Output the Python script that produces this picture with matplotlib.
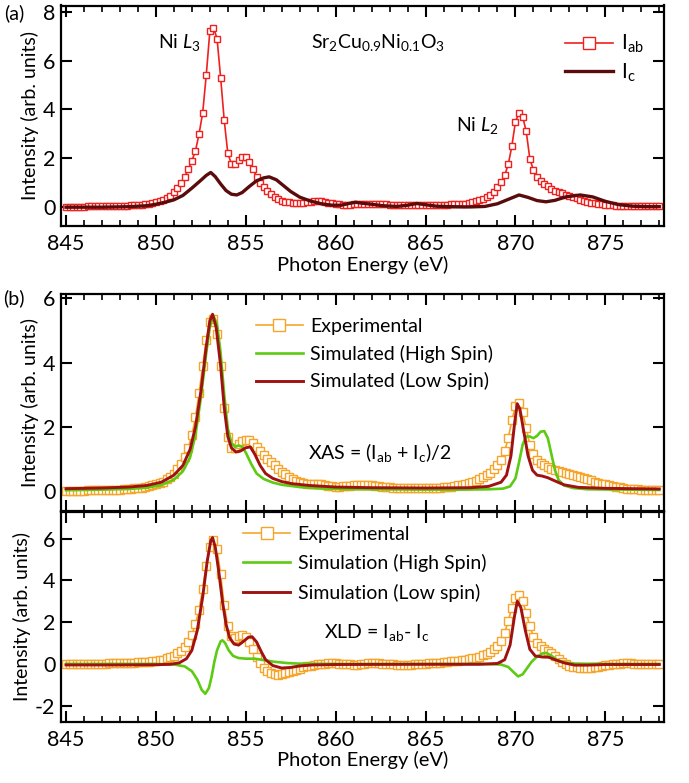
import numpy as np
import matplotlib
matplotlib.use('Agg')
import matplotlib.pyplot as plt
from matplotlib import font_manager
from matplotlib.ticker import MultipleLocator

# pick a narrow-ish sans font if we have one
names = {f.name for f in font_manager.fontManager.ttflist}
base = 'DejaVu Sans'
for fam in ['Liberation Sans Narrow', 'Lato', 'Open Sans']:
  if fam in names:
    base = fam
    break
plt.rcParams['font.family'] = [base, 'DejaVu Sans']
plt.rcParams['mathtext.fontset'] = 'custom'
plt.rcParams['mathtext.rm'] = base
plt.rcParams['mathtext.it'] = base + ':italic'
plt.rcParams['axes.unicode_minus'] = False

# ---------------- data ----------------
# experimental spectra, 0.2 eV grid 845.0 ... 878.0
energy_exp = np.round(np.arange(845.0, 878.01, 0.2), 1)

i_ab = [
  0.02, 0.02, 0.02, 0.02, 0.02, 0.02, 0.03, 0.03, 0.03, 0.03,
  0.03, 0.03, 0.04, 0.04, 0.04, 0.05, 0.05, 0.06, 0.07, 0.08,
  0.09, 0.10, 0.12, 0.14, 0.17, 0.20, 0.24, 0.29, 0.36, 0.45,
  0.62, 0.80, 1.00, 1.24, 1.55, 1.90, 2.30, 3.00, 3.85, 5.40,
  7.20, 7.35, 6.90, 5.30, 3.55, 2.20, 1.78, 1.78, 1.95, 2.06,
  2.05, 1.85, 1.58, 1.25, 1.00, 0.82, 0.66, 0.52, 0.41, 0.32,
  0.27, 0.23, 0.20, 0.18, 0.17, 0.17, 0.18, 0.20, 0.22, 0.24,
  0.25, 0.24, 0.22, 0.19, 0.16, 0.13, 0.11, 0.10, 0.10, 0.10,
  0.11, 0.12, 0.13, 0.14, 0.15, 0.15, 0.14, 0.13, 0.12, 0.11,
  0.10, 0.09, 0.08, 0.08, 0.07, 0.07, 0.07, 0.07, 0.07, 0.08,
  0.08, 0.08, 0.08, 0.09, 0.09, 0.10, 0.10, 0.11, 0.12, 0.13,
  0.13, 0.15, 0.17, 0.20, 0.24, 0.29, 0.35, 0.42, 0.51, 0.64,
  0.82, 1.02, 1.30, 1.75, 2.50, 3.50, 3.85, 3.70, 3.10, 1.98,
  1.52, 1.24, 1.08, 0.96, 0.87, 0.76, 0.68, 0.62, 0.57, 0.51,
  0.46, 0.41, 0.36, 0.31, 0.27, 0.23, 0.19, 0.16, 0.13, 0.11,
  0.09, 0.08, 0.07, 0.06, 0.05, 0.05, 0.04, 0.04, 0.04, 0.04,
  0.04, 0.04, 0.04, 0.04, 0.04, 0.04]

xas_exp = [
  0.02, 0.02, 0.02, 0.02, 0.02, 0.02, 0.03, 0.03, 0.03, 0.03,
  0.03, 0.04, 0.04, 0.04, 0.05, 0.05, 0.06, 0.07, 0.08, 0.09,
  0.10, 0.11, 0.13, 0.15, 0.18, 0.21, 0.25, 0.30, 0.37, 0.45,
  0.55, 0.68, 0.84, 1.05, 1.35, 1.75, 2.30, 3.05, 3.90, 4.70,
  5.25, 5.35, 4.90, 3.90, 2.60, 1.70, 1.35, 1.35, 1.48, 1.57,
  1.60, 1.58, 1.50, 1.38, 1.25, 1.12, 1.00, 0.90, 0.80, 0.70,
  0.60, 0.52, 0.45, 0.38, 0.32, 0.28, 0.25, 0.24, 0.24, 0.24,
  0.23, 0.21, 0.19, 0.17, 0.15, 0.14, 0.14, 0.15, 0.16, 0.17,
  0.18, 0.19, 0.20, 0.20, 0.19, 0.18, 0.17, 0.15, 0.14, 0.13,
  0.12, 0.11, 0.10, 0.10, 0.09, 0.09, 0.09, 0.09, 0.09, 0.09,
  0.09, 0.09, 0.10, 0.10, 0.11, 0.12, 0.13, 0.14, 0.16, 0.18,
  0.20, 0.22, 0.25, 0.28, 0.32, 0.37, 0.43, 0.50, 0.58, 0.68,
  0.80, 0.98, 1.25, 1.65, 2.20, 2.65, 2.75, 2.45, 1.95, 1.45,
  1.15, 0.98, 0.88, 0.80, 0.74, 0.70, 0.66, 0.62, 0.59, 0.56,
  0.53, 0.50, 0.47, 0.44, 0.41, 0.37, 0.34, 0.30, 0.27, 0.24,
  0.21, 0.19, 0.16, 0.14, 0.12, 0.10, 0.08, 0.07, 0.06, 0.06,
  0.05, 0.05, 0.05, 0.05, 0.05, 0.05]

xld_exp = [
  0.00, 0.00, -0.01, -0.01, -0.01, 0.00, 0.00, 0.00, 0.01, 0.01,
  0.01, 0.01, 0.02, 0.02, 0.02, 0.03, 0.03, 0.04, 0.05, 0.06,
  0.07, 0.08, 0.09, 0.10, 0.12, 0.14, 0.17, 0.21, 0.26, 0.32,
  0.40, 0.50, 0.62, 0.80, 1.05, 1.40, 1.90, 2.60, 3.60, 4.70,
  5.60, 5.95, 5.50, 4.30, 2.80, 1.80, 1.35, 1.25, 1.35, 1.40,
  1.30, 1.05, 0.70, 0.35, 0.05, -0.18, -0.33, -0.44, -0.50, -0.52,
  -0.50, -0.46, -0.41, -0.35, -0.29, -0.23, -0.17, -0.12, -0.08, -0.04,
  -0.02, 0.00, 0.01, 0.02, 0.02, 0.02, 0.01, 0.00, -0.01, -0.02,
  -0.03, -0.03, -0.02, 0.00, 0.02, 0.03, 0.03, 0.02, 0.01, 0.00,
  -0.01, -0.02, -0.03, -0.04, -0.04, -0.04, -0.03, -0.02, -0.01, 0.00,
  0.01, 0.02, 0.03, 0.05, 0.06, 0.08, 0.10, 0.12, 0.14, 0.16,
  0.18, 0.20, 0.23, 0.26, 0.30, 0.35, 0.41, 0.48, 0.57, 0.70,
  0.88, 1.12, 1.50, 2.05, 2.70, 3.15, 3.28, 3.00, 2.45, 1.80,
  1.30, 1.00, 0.85, 0.73, 0.62, 0.50, 0.36, 0.22, 0.10, 0.00,
  -0.08, -0.13, -0.17, -0.19, -0.20, -0.20, -0.19, -0.17, -0.14, -0.10,
  -0.07, -0.04, -0.02, 0.00, 0.01, 0.02, 0.02, 0.02, 0.01, 0.01,
  0.01, 0.00, 0.00, 0.00, 0.00, 0.00]

# I_c (line only)
ic_energy = [845.0, 847.0, 848.5, 849.5, 850.0, 850.5, 851.0, 851.5, 852.0, 852.5,
             852.8, 853.05, 853.3, 853.6, 853.9, 854.2, 854.5, 854.8, 855.2, 855.6,
             856.0, 856.3, 856.7, 857.1, 857.5, 858.0, 858.6, 859.2, 859.8, 860.3,
             860.8, 861.1, 861.5, 862.0, 862.6, 863.4, 864.0, 864.5, 865.0, 865.6,
             866.5, 867.5, 868.3, 869.0, 869.6, 870.2, 870.7, 871.2, 871.7, 872.2,
             872.8, 873.6, 874.3, 875.0, 875.7, 876.5, 877.3, 878.0]
i_c = [0.00, 0.00, 0.02, 0.06, 0.12, 0.20, 0.30, 0.48, 0.78, 1.10,
       1.30, 1.42, 1.25, 0.95, 0.68, 0.53, 0.50, 0.60, 0.85, 1.08,
       1.20, 1.24, 1.12, 0.88, 0.64, 0.41, 0.25, 0.14, 0.08, 0.08,
       0.16, 0.20, 0.16, 0.12, 0.06, 0.03, 0.08, 0.15, 0.10, 0.04,
       0.02, 0.01, 0.03, 0.14, 0.32, 0.50, 0.40, 0.27, 0.22, 0.28,
       0.42, 0.50, 0.42, 0.24, 0.11, 0.04, 0.02, 0.02]

# simulated XAS
hs_xas_energy = [845.0, 847.0, 848.5, 849.5, 850.3, 851.0, 851.5, 851.9, 852.2, 852.5,
                 852.8, 853.0, 853.2, 853.4, 853.6, 853.8, 854.0, 854.2, 854.4, 854.6,
                 854.8, 855.0, 855.3, 855.6, 856.0, 856.5, 857.0, 858.0, 859.0, 860.0,
                 862.0, 865.0, 867.0, 868.5, 869.3, 869.7, 870.0, 870.2, 870.4, 870.6,
                 870.8, 871.0, 871.2, 871.4, 871.6, 871.8, 872.0, 872.2, 872.4, 872.7,
                 873.2, 874.0, 876.0, 878.0]
hs_xas = [0.03, 0.05, 0.07, 0.11, 0.19, 0.36, 0.62, 1.05, 1.75, 2.90,
          4.30, 5.10, 5.45, 5.20, 4.30, 3.00, 1.95, 1.50, 1.38, 1.42,
          1.38, 1.20, 0.85, 0.55, 0.38, 0.27, 0.20, 0.13, 0.09, 0.07,
          0.06, 0.05, 0.05, 0.06, 0.08, 0.15, 0.40, 0.90, 1.45, 1.70,
          1.70, 1.65, 1.72, 1.85, 1.87, 1.65, 1.15, 0.65, 0.35, 0.18,
          0.10, 0.06, 0.05, 0.04]

ls_xas_energy = [845.0, 847.0, 848.5, 849.5, 850.3, 851.0, 851.5, 851.9, 852.2, 852.5,
                 852.8, 853.0, 853.15, 853.35, 853.6, 853.8, 854.0, 854.2, 854.45, 854.7,
                 855.0, 855.25, 855.5, 855.8, 856.1, 856.5, 857.0, 857.5, 858.5, 860.0,
                 862.0, 865.0, 867.5, 868.5, 869.2, 869.5, 869.75, 869.95, 870.1, 870.25,
                 870.45, 870.7, 870.95, 871.2, 871.5, 871.8, 872.2, 872.7, 873.5, 875.0,
                 878.0]
ls_xas = [0.08, 0.10, 0.13, 0.18, 0.28, 0.50, 0.80, 1.30, 2.00, 3.10,
          4.50, 5.30, 5.50, 5.10, 3.90, 2.60, 1.70, 1.35, 1.22, 1.25,
          1.35, 1.38, 1.15, 0.80, 0.55, 0.40, 0.30, 0.24, 0.18, 0.13,
          0.11, 0.10, 0.11, 0.15, 0.28, 0.50, 1.10, 2.10, 2.72, 2.55,
          1.90, 1.10, 0.65, 0.50, 0.47, 0.42, 0.32, 0.20, 0.12, 0.09,
          0.07]

# simulated XLD
hs_xld_energy = [845.0, 850.0, 851.0, 851.6, 852.0, 852.3, 852.55, 852.75, 852.95, 853.1,
                 853.25, 853.4, 853.6, 853.7, 853.85, 854.05, 854.3, 854.6, 855.0, 855.5,
                 856.0, 856.6, 857.3, 858.0, 860.0, 868.0, 869.2, 869.6, 869.9, 870.15,
                 870.4, 870.65, 870.9, 871.2, 871.5, 871.7, 871.95, 872.3, 872.7, 873.3,
                 875.0, 878.0]
hs_xld = [0.00, 0.00, -0.03, -0.12, -0.35, -0.75, -1.25, -1.43, -1.15, -0.60,
          0.10, 0.65, 1.08, 1.13, 1.00, 0.65, 0.38, 0.28, 0.25, 0.25,
          0.18, 0.10, 0.04, 0.01, 0.00, 0.00, -0.03, -0.15, -0.40, -0.60,
          -0.50, -0.20, 0.10, 0.35, 0.50, 0.53, 0.42, 0.20, 0.07, 0.01,
          0.00, 0.00]

ls_xld_energy = [845.0, 848.0, 850.0, 850.8, 851.3, 851.7, 852.0, 852.3, 852.6, 852.85,
                 853.05, 853.15, 853.3, 853.5, 853.7, 853.9, 854.1, 854.35, 854.6, 854.9,
                 855.15, 855.35, 855.6, 855.85, 856.1, 856.5, 857.0, 857.5, 858.0, 858.7,
                 860.0, 865.0, 868.0, 869.0, 869.4, 869.7, 869.95, 870.1, 870.3, 870.55,
                 870.8, 871.1, 871.5, 871.85, 872.2, 872.7, 873.3, 874.0, 875.0, 878.0]
ls_xld = [-0.05, -0.05, -0.04, -0.02, 0.05, 0.25, 0.65, 1.60, 3.20, 4.90,
          5.90, 6.05, 5.60, 4.40, 3.00, 1.90, 1.25, 0.95, 0.90, 1.10,
          1.28, 1.30, 1.05, 0.60, 0.20, -0.08, -0.20, -0.17, -0.10, -0.05,
          -0.03, -0.02, -0.02, 0.02, 0.20, 0.90, 2.30, 3.00, 2.70, 1.60,
          0.70, 0.38, 0.33, 0.32, 0.20, 0.05, -0.06, -0.06, -0.03, -0.03]

# ---------------- style ----------------
RED = '#f0201e'
MAROON = '#5a0c0c'
ORANGE = '#f7a52a'
GREEN = '#5ccb12'
DARKRED = '#a01212'
FS = 14
TICK_FS = 15.5

W, H = 689, 783
fig = plt.figure(figsize=(W / 100, H / 100), dpi=100)

def box(left, top, right, bottom):
  return [left / W, 1 - bottom / H, (right - left) / W, (bottom - top) / H]

ax_a = fig.add_axes(box(61, 5.5, 664.3, 226))
ax_b1 = fig.add_axes(box(61, 294, 664.3, 511.5))
ax_b2 = fig.add_axes(box(61, 511.5, 664.3, 721.5))

def style(ax, ylim, ystep, xlabels=True):
  ax.set_xlim(844.72, 878.28)
  ax.set_ylim(*ylim)
  ax.xaxis.set_major_locator(MultipleLocator(5))
  ax.xaxis.set_minor_locator(MultipleLocator(1))
  ax.yaxis.set_major_locator(MultipleLocator(ystep))
  ax.tick_params(axis='x', which='both', direction='in', top=True, bottom=True,
                 labelbottom=xlabels, labelsize=TICK_FS, pad=6)
  ax.tick_params(axis='x', which='major', length=8, width=1.5)
  ax.tick_params(axis='x', which='minor', length=4.5, width=1.2)
  ax.tick_params(axis='y', which='major', direction='in', left=True, right=True,
                 length=8, width=1.5, labelsize=TICK_FS, pad=4)
  for s in ax.spines.values():
    s.set_linewidth(1.6)
  ax.set_ylabel('Intensity (arb. units)', fontsize=FS, labelpad=3)
  if xlabels:
    ax.set_xlabel('Photon Energy (eV)', fontsize=FS + 0.5, labelpad=1)

# ---- panel (a) ----
ax_a.plot(energy_exp, i_ab, '-s', color=RED, lw=1.2, ms=4.5, mfc='white',
          mew=1.0, label=r'I$_{\rm ab}$')
ax_a.plot(ic_energy, i_c, '-', color=MAROON, lw=2.4, label=r'I$_{\rm c}$')
style(ax_a, (-0.77, 8.25), 2)
ax_a.text(851.3, 6.75, r'Ni $\mathit{L_3}$', fontsize=FS, ha='center', va='center')
ax_a.text(862.35, 6.75, r'Sr$_{\rm 2}$Cu$_{\rm 0.9}$Ni$_{\rm 0.1}$O$_{\rm 3}$',
          fontsize=FS, ha='center', va='center')
ax_a.text(867.9, 3.36, r'Ni $\mathit{L_2}$', fontsize=FS, ha='center', va='center')
ax_a.legend(loc='upper left', bbox_to_anchor=(0.835, 0.875), frameon=False, fontsize=FS + 1,
            handlelength=2.3, handletextpad=0.4, labelspacing=0.3, markerscale=1.8,
            borderaxespad=0, borderpad=0)

# ---- panel (b) XAS ----
ax_b1.plot(energy_exp, xas_exp, '-s', color=ORANGE, lw=1.2, ms=5.5, mfc='white',
           mew=1.0, label='Experimental')
ax_b1.plot(hs_xas_energy, hs_xas, '-', color=GREEN, lw=1.9, label='Simulated (High Spin)')
ax_b1.plot(ls_xas_energy, ls_xas, '-', color=DARKRED, lw=2.1, label='Simulated (Low Spin)')
style(ax_b1, (-0.63, 6.13), 2, xlabels=False)
ax_b1.text(862.45, 1.2, r'XAS = (I$_{\rm ab}$ + I$_{\rm c}$)/2', fontsize=FS,
           ha='center', va='center')
ax_b1.legend(loc='upper left', bbox_to_anchor=(0.323, 0.89), frameon=False, fontsize=FS,
             handlelength=2.4, handletextpad=0.4, labelspacing=0.5, markerscale=1.5,
             borderaxespad=0, borderpad=0)

# ---- panel (b) XLD ----
ax_b2.plot(energy_exp, xld_exp, '-s', color=ORANGE, lw=1.2, ms=5.5, mfc='white',
           mew=1.0, label='Experimental')
ax_b2.plot(hs_xld_energy, hs_xld, '-', color=GREEN, lw=1.9, label='Simulation (High Spin)')
ax_b2.plot(ls_xld_energy, ls_xld, '-', color=DARKRED, lw=2.1, label='Simulation (Low spin)')
style(ax_b2, (-2.76, 7.3), 2)
ax_b2.text(862.3, 1.5, r'XLD = I$_{\rm ab}$- I$_{\rm c}$', fontsize=FS,
           ha='center', va='center')
ax_b2.legend(loc='upper left', bbox_to_anchor=(0.302, 0.933), frameon=False, fontsize=FS,
             handlelength=2.4, handletextpad=0.4, labelspacing=0.6, markerscale=1.5,
             borderaxespad=0, borderpad=0)

fig.text(14 / W, 1 - 13 / H, '(a)', fontsize=FS, ha='center', va='center')
fig.text(14 / W, 1 - 298 / H, '(b)', fontsize=FS, ha='center', va='center')

fig.savefig('out.png', dpi=100)
